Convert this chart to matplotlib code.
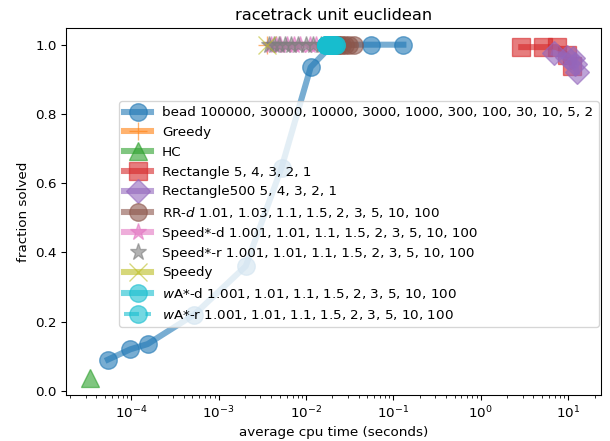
import matplotlib
matplotlib.use('Agg')
import matplotlib.pyplot as plt

# bead search, beam widths 100000 ... 2
bead_t = [0.13, 0.055, 0.02, 0.0113, 5.25e-3, 2.04e-3, 5.25e-4, 1.54e-4, 9.8e-5, 5.4e-5]
bead_f = [1.0, 1.0, 1.0, 0.935, 0.645, 0.36, 0.22, 0.135, 0.12, 0.09]

greedy_t = [3.6e-3]
greedy_f = [1.0]

hc_t = [3.4e-5]
hc_f = [0.036]

rect_t = [2.9, 5.1, 7.4, 9.8, 11.1]
rect_f = [0.993, 0.993, 0.993, 0.969, 0.938]

rect500_t = [6.9, 9.8, 11.3, 12.0, 12.5]
rect500_f = [0.976, 0.965, 0.962, 0.945, 0.92]

rrd_t = [0.035, 0.031, 0.028, 0.026, 0.024, 0.023, 0.022, 0.021, 0.021]
rrd_f = [1.0] * 9

speedd_t = [0.016, 0.013, 0.011, 0.0085, 0.0072, 0.006, 0.005, 0.0045, 0.004]
speedd_f = [1.0] * 9

speedr_t = [0.015, 0.012, 0.010, 0.008, 0.0068, 0.0058, 0.0049, 0.0043, 0.0038]
speedr_f = [1.0] * 9

speedy_t = [3.6e-3]
speedy_f = [1.0]

wad_t = [0.022, 0.021, 0.020, 0.019, 0.018, 0.018, 0.017, 0.017, 0.017]
wad_f = [1.0] * 9

war_t = [0.022, 0.021, 0.020, 0.019, 0.019, 0.018, 0.018, 0.017, 0.017]
war_f = [1.0] * 9

series = [
    (bead_t, bead_f, 'o', 'C0', '-', 4.5, 'bead 100000, 30000, 10000, 3000, 1000, 300, 100, 30, 10, 5, 2'),
    (greedy_t, greedy_f, '+', 'C1', '-', 4.5, 'Greedy'),
    (hc_t, hc_f, '^', 'C2', '-', 4.5, 'HC'),
    (rect_t, rect_f, 's', 'C3', '-', 4.5, 'Rectangle 5, 4, 3, 2, 1'),
    (rect500_t, rect500_f, 'D', 'C4', '-', 4.5, 'Rectangle500 5, 4, 3, 2, 1'),
    (rrd_t, rrd_f, 'o', 'C5', '-', 4.5, 'RR-$d$ 1.01, 1.03, 1.1, 1.5, 2, 3, 5, 10, 100'),
    (speedd_t, speedd_f, '*', 'C6', '-', 4.5, 'Speed*-d 1.001, 1.01, 1.1, 1.5, 2, 3, 5, 10, 100'),
    (speedr_t, speedr_f, '*', 'C7', '-', 0, 'Speed*-r 1.001, 1.01, 1.1, 1.5, 2, 3, 5, 10, 100'),
    (speedy_t, speedy_f, 'x', 'C8', '-', 4.5, 'Speedy'),
    (wad_t, wad_f, 'o', 'C9', '-', 4.5, '$w$A*-d 1.001, 1.01, 1.1, 1.5, 2, 3, 5, 10, 100'),
    (war_t, war_f, 'o', 'C9', '--', 3, '$w$A*-r 1.001, 1.01, 1.1, 1.5, 2, 3, 5, 10, 100'),
]

fig = plt.figure(figsize=(6.1 / 0.97, 4.41 / 0.97), dpi=97)
# axes box: x 66..601 px, y 28..395 px
ax = fig.add_axes([66 / 610, 46 / 441, 535 / 610, 367 / 441])

for t, f, m, c, ls, lw, lab in series:
    ax.plot(t, f, marker=m, color=c, linestyle=ls, linewidth=lw,
            markersize=13, alpha=0.6, label=lab)

ax.set_xscale('log')
ax.set_title('racetrack unit euclidean')
ax.set_xlabel('average cpu time (seconds)')
ax.set_ylabel('fraction solved')
ax.legend(loc='upper left', bbox_to_anchor=((119 - 66) / 535, (395 - 101) / 367),
          borderaxespad=0)

fig.savefig('out.png', dpi=97)
